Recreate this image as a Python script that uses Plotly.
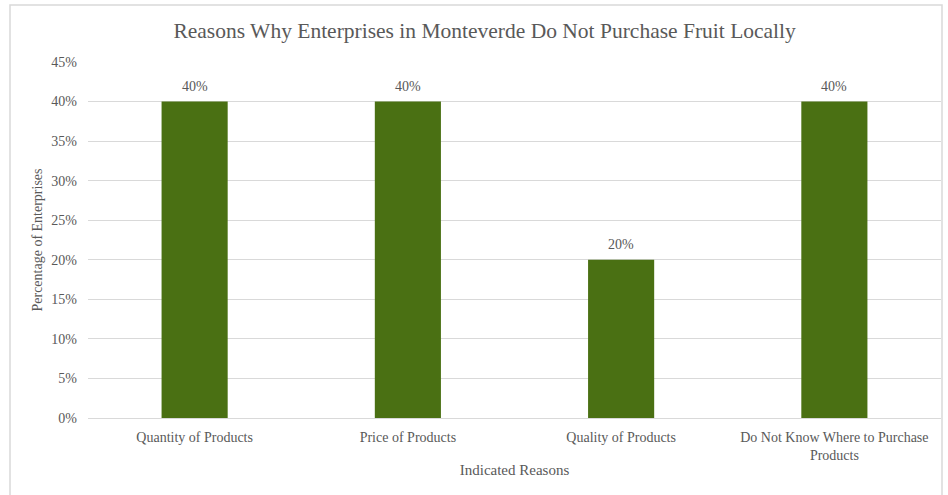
import plotly.graph_objects as go

# Reasons reported by enterprises, share of respondents (%)
reasons = [
    "Quantity of Products",
    "Price of Products",
    "Quality of Products",
    "Do Not Know Where to Purchase<br>Products",
]
shares = [40, 40, 20, 40]
y_ticks = [0, 5, 10, 15, 20, 25, 30, 35, 40, 45]
y_tick_labels = [f"{v}%" for v in y_ticks]

serif = "Liberation Serif, Times New Roman, serif"
grey_text = "#595959"
grid_grey = "#d9d9d9"

fig = go.Figure(
    go.Bar(
        x=reasons,
        y=shares,
        marker=dict(color="#4A7013", line=dict(width=0)),
        width=0.31,
        hoverinfo="x+y",
    )
)

# value labels above each bar
for reason, share in zip(reasons, shares):
    fig.add_annotation(
        x=reason,
        y=share,
        text=f"{share}%",
        showarrow=False,
        yanchor="middle",
        yshift=15,
        font=dict(family=serif, size=14, color=grey_text),
    )

fig.update_layout(
    width=948,
    height=495,
    margin=dict(l=88, r=7, t=62, b=77),
    paper_bgcolor="white",
    plot_bgcolor="white",
    showlegend=False,
    title=dict(
        text="Reasons Why Enterprises in Monteverde Do Not Purchase Fruit Locally",
        xref="paper",
        x=0.465,
        xanchor="center",
        y=1 - 30 / 495,
        yanchor="middle",
        font=dict(family=serif, size=21.5, color=grey_text),
    ),
    font=dict(family=serif, size=14, color=grey_text),
    xaxis=dict(
        showgrid=False,
        showline=True,
        linecolor=grid_grey,
        linewidth=1,
        ticks="",
        ticklabelstandoff=6,
        tickfont=dict(family=serif, size=14, color=grey_text),
        title=dict(
            text="Indicated Reasons",
            font=dict(family=serif, size=15, color=grey_text),
            standoff=2,
        ),
    ),
    yaxis=dict(
        range=[0, 45],
        tickvals=y_ticks,
        ticktext=y_tick_labels,
        showgrid=True,
        gridcolor=grid_grey,
        gridwidth=1,
        zeroline=False,
        showline=False,
        ticks="",
        ticklabelstandoff=10,
        tickfont=dict(family=serif, size=14, color=grey_text),
        title=dict(
            text="Percentage of Enterprises",
            font=dict(family=serif, size=14, color=grey_text),
            standoff=5,
        ),
    ),
    shapes=[
        # chart frame (open at the bottom edge of the page)
        dict(
            type="rect",
            xref="paper",
            yref="paper",
            x0=(10 - 88) / 853,
            x1=(942 - 88) / 853,
            y0=(418 - 520) / 356,
            y1=(418 - 5) / 356,
            line=dict(color=grid_grey, width=1.5),
            fillcolor="rgba(0,0,0,0)",
            layer="below",
        )
    ],
)

fig.write_html("out.html")
